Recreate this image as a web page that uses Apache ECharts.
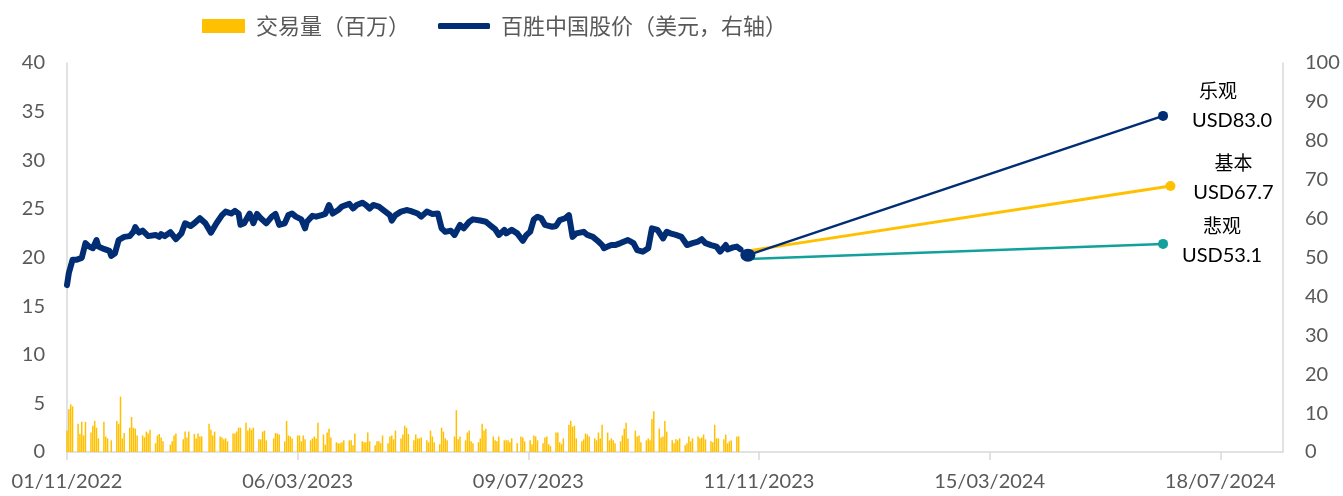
<!DOCTYPE html>
<html><head><meta charset="utf-8">
<script src="https://cdn.jsdelivr.net/npm/echarts@6/dist/echarts.min.js"></script>
<style>html,body{margin:0;padding:0;background:#fff}#c{width:1343px;height:496px}</style>
</head><body><div id="c"></div>
<script>
// ---- data ----
const startDate = '2022-11-01';           // x axis origin (day 0)
const xTickDays = [0, 125, 250, 375, 500, 625]; // tick positions, days since startDate
const xMaxDay = 659;
const volumeEnd = '2023-10-31';
const holidays = ['2022-11-24','2022-12-26','2023-01-02','2023-01-16','2023-02-20',
  '2023-04-07','2023-05-29','2023-06-19','2023-07-04','2023-09-04'];
// daily trading volume (millions), one value per trading day, grouped by week
const volume = [
  2.2,4.4,4.9,4.7,
  2.9,1.85,3.1,1.7,3.1,
  2.0,2.7,3.2,2.5,1.4,
  3.1,1.6,1.4,1.2,
  3.2,2.9,5.7,1.4,1.95,
  2.5,3.6,2.5,2.4,1.7,
  1.7,1.5,2.1,1.9,2.3,
  0.9,1.7,1.85,1.5,1.1,
  0.75,1.1,1.7,1.9,
  1.3,2.1,1.5,2.1,
  1.85,1.4,1.9,1.6,1.6,
  2.9,2.3,1.7,2.1,
  1.6,1.5,1.3,1.4,1.1,
  1.9,1.9,2.1,2.5,2.5,
  3.0,2.2,2.5,2.3,2.5,
  1.3,1.3,2.1,2.2,1.2,
  1.4,1.95,1.9,1.8,
  1.1,3.2,1.7,1.6,1.4,
  1.7,1.7,1.1,1.7,1.3,
  1.2,1.4,1.6,1.4,3.0,
  1.8,0.75,2.0,2.4,1.5,
  1.0,0.9,0.9,1.0,1.2,
  1.2,1.2,0.7,1.9,
  1.1,1.0,1.0,2.0,1.1,
  0.7,1.1,1.1,0.9,1.7,
  0.9,1.6,1.7,1.3,2.2,
  1.4,1.8,2.7,2.5,1.85,
  1.2,1.8,1.4,1.4,1.5,
  1.2,1.0,2.2,1.6,1.0,
  0.8,2.5,2.1,1.4,1.2,
  1.6,4.3,1.3,1.6,
  1.2,2.0,2.2,1.1,0.9,
  1.0,1.4,2.9,2.2,2.4,
  1.6,1.2,1.1,1.6,
  1.2,1.2,1.2,1.0,1.4,
  0.9,1.6,1.5,1.1,
  1.2,0.8,1.7,1.6,1.2,
  0.9,1.5,1.6,0.8,0.6,
  2.0,2.0,1.0,0.8,1.4,
  2.8,3.2,2.6,2.7,1.4,
  1.1,1.3,1.9,1.8,1.6,
  1.4,1.2,2.0,1.4,2.8,
  2.0,1.2,1.4,1.2,0.9,
  1.1,1.7,2.4,3.0,1.4,
  2.2,1.6,1.7,1.0,
  1.2,1.4,1.2,3.4,4.2,
  2.4,1.5,1.6,3.2,2.1,
  1.2,0.9,1.3,1.2,1.4,
  0.7,0.9,1.6,1.1,1.4,
  1.6,1.4,1.5,1.8,1.3,
  1.1,1.0,2.8,1.4,1.4,
  1.3,1.8,0.9,1.1,1.2,
  1.6,1.6
];
// share price (USD, right axis): days since startDate and price
const priceDays = [0,1,3,5,6,8,10,12,14,16,17,20,23,24,26,28,31,34,36,37,39,41,44,48,50,51,53,56,59,62,
  64,67,69,72,75,78,81,84,86,89,91,93,94,96,99,101,103,105,108,111,113,115,118,120,122,124,
  127,129,130,133,135,138,140,142,144,147,149,153,155,157,160,162,164,166,169,172,175,176,178,181,184,186,190,
  192,195,198,201,203,205,208,210,213,215,218,220,224,227,229,232,234,237,238,241,244,247,249,251,253,
  255,257,259,263,265,267,270,272,274,276,280,282,285,288,290,291,293,295,297,300,302,304,307,309,312,315,317,
  318,320,323,325,327,330,333,336,339,342,344,346,349,352,354,357,358,361,363,365];
const price = [42.9,46.0,49.4,49.4,48.9,49.9,53.7,52.8,52.4,54.5,52.8,52.2,51.7,50.4,51.1,54.5,55.3,55.5,56.6,57.8,56.4,56.9,55.5,55.8,55.3,56.0,55.5,56.5,54.7,56.2,
  58.8,58.1,58.8,60.1,58.8,56.4,58.8,60.9,61.8,61.3,62.0,61.3,58.4,58.8,61.3,58.8,61.2,60.1,58.8,60.5,61.2,58.4,58.8,60.9,61.3,60.5,
  59.8,57.5,59.2,60.7,60.5,60.9,61.2,63.5,61.3,62.2,63.1,63.8,62.6,63.5,64.1,63.5,62.6,63.5,63.1,62.0,60.9,59.5,60.9,61.8,62.2,62.0,61.3,
  60.5,61.8,61.2,61.3,57.5,56.6,56.9,55.8,58.4,57.5,59.2,59.8,59.5,59.2,58.4,57.3,55.8,57.1,56.2,57.1,56.2,54.3,55.8,56.6,59.8,
  60.5,60.1,58.4,57.9,58.1,59.6,60.1,60.9,55.3,56.2,56.6,55.8,55.3,54.1,53.2,52.4,52.8,53.2,53.2,53.7,54.1,54.5,53.7,51.9,51.5,52.4,57.5,
  57.9,57.1,54.9,56.6,56.2,55.8,55.3,53.2,53.7,54.1,54.7,53.7,53.2,52.8,51.5,53.2,52.1,52.6,52.8,52.1];
// price scenarios (right axis)
const scenarioNames = ['乐观', '基本', '悲观'];
const scenarioTargets = ['USD83.0', 'USD67.7', 'USD53.1'];
const scenarioStartDay = [369, 369, 369];
const scenarioStartVal = [50.6, 51.7, 49.6];
const scenarioEndDay = [594, 598, 594];
const scenarioEndVal = [86.4, 68.4, 53.5];
const legendNames = ['交易量（百万）', '百胜中国股价（美元，右轴）'];

// ---- helpers ----
const DAY = 86400000;
const t0 = Date.parse(startDate + 'T00:00:00Z');
const dayOf = s => Math.round((Date.parse(s + 'T00:00:00Z') - t0) / DAY);
const fmtDay = d => {
  const dt = new Date(t0 + d * DAY);
  const p = n => String(n).padStart(2, '0');
  return p(dt.getUTCDate()) + '/' + p(dt.getUTCMonth() + 1) + '/' + dt.getUTCFullYear();
};
// trading-day calendar for the volume bars
const tradeDays = [];
for (let d = 0; d <= dayOf(volumeEnd); d++) {
  const dt = new Date(t0 + d * DAY);
  const wd = dt.getUTCDay();
  const iso = dt.toISOString().slice(0, 10);
  if (wd === 0 || wd === 6 || holidays.includes(iso)) continue;
  tradeDays.push(d);
}
const volData = volume.map((v, i) => [tradeDays[i], v]);
const priceData = price.map((v, i) => [priceDays[i], v]);

const NAVY = '#002D74', GOLD = '#FFC000', TEAL = '#12A09A';
const scenColors = [NAVY, GOLD, TEAL];
const labelCfg = [
  { offset: [69, -10], pad: 28 },
  { offset: [63, -8], pad: 0 },
  { offset: [59, -3], pad: 0 }
];
const scenarioSeries = scenarioNames.map((nm, i) => ({
  name: nm, type: 'line', yAxisIndex: 1, z: 5,
  lineStyle: { color: scenColors[i], width: i === 1 ? 3 : 2.5 },
  itemStyle: { color: scenColors[i] },
  symbol: 'circle',
  data: [
    { value: [scenarioStartDay[i], scenarioStartVal[i]], symbolSize: i === 0 ? [15, 13] : 0 },
    { value: [scenarioEndDay[i], scenarioEndVal[i]], symbolSize: 10,
      label: {
        show: true, position: 'inside', align: 'center', verticalAlign: 'middle',
        offset: labelCfg[i].offset,
        formatter: '{a|' + nm + '}\n{b|' + scenarioTargets[i] + '}',
        rich: {
          a: { fontFamily: 'Noto Sans CJK SC', fontSize: 19, color: '#000', lineHeight: 30, padding: [0, labelCfg[i].pad, 0, 0] },
          b: { fontFamily: 'Lato', fontSize: 20, color: '#000', lineHeight: 30 }
        }
      } }
  ]
}));
scenarioSeries[0].z = 6;

const axisLabelStyle = { color: '#595959', fontSize: 20, fontFamily: 'Lato' };
const legendText = { color: '#595959', fontSize: 22, fontFamily: 'Noto Sans CJK SC', padding: [0, 0, 0, 6] };
const chart = echarts.init(document.getElementById('c'), null, { renderer: 'canvas' });
chart.setOption({
  animation: false,
  backgroundColor: '#fff',
  legend: [
    { left: 197, top: 10, itemWidth: 43, itemHeight: 14, textStyle: legendText,
      data: [{ name: legendNames[0], icon: 'rect' }] },
    { left: 433, top: 10, itemWidth: 52, itemHeight: 6, textStyle: legendText,
      data: [{ name: legendNames[1], icon: 'roundRect' }] }
  ],
  grid: { left: 67, right: 60, top: 63, bottom: 44, containLabel: false, outerBoundsMode: 'none' },
  xAxis: {
    type: 'value', min: 0, max: xMaxDay, interval: 125,
    axisLine: { show: true, lineStyle: { color: '#D9D9D9', width: 1.5 } },
    axisTick: { show: true, length: 8, lineStyle: { color: '#D9D9D9', width: 1.5 }, customValues: xTickDays },
    axisLabel: Object.assign({ margin: 20, customValues: xTickDays, formatter: v => fmtDay(v) }, axisLabelStyle),
    splitLine: { show: false }
  },
  yAxis: [
    { type: 'value', min: 0, max: 40, interval: 5,
      axisLine: { show: true, lineStyle: { color: '#D9D9D9', width: 1.5 } },
      axisTick: { show: false }, splitLine: { show: false },
      axisLabel: Object.assign({ margin: 22 }, axisLabelStyle) },
    { type: 'value', min: 0, max: 100, interval: 10, position: 'right',
      axisLine: { show: true, lineStyle: { color: '#D9D9D9', width: 1.5 } },
      axisTick: { show: false }, splitLine: { show: false },
      axisLabel: Object.assign({ margin: 22 }, axisLabelStyle) }
  ],
  series: [
    { name: legendNames[0], type: 'bar', yAxisIndex: 0, barWidth: 1.5,
      itemStyle: { color: GOLD }, data: volData, z: 2 },
    { name: legendNames[1], type: 'line', yAxisIndex: 1, showSymbol: false, symbol: 'none',
      lineStyle: { color: NAVY, width: 6, cap: 'round', join: 'round' }, itemStyle: { color: NAVY },
      data: priceData, z: 4 }
  ].concat(scenarioSeries)
});
</script>
</body></html>
